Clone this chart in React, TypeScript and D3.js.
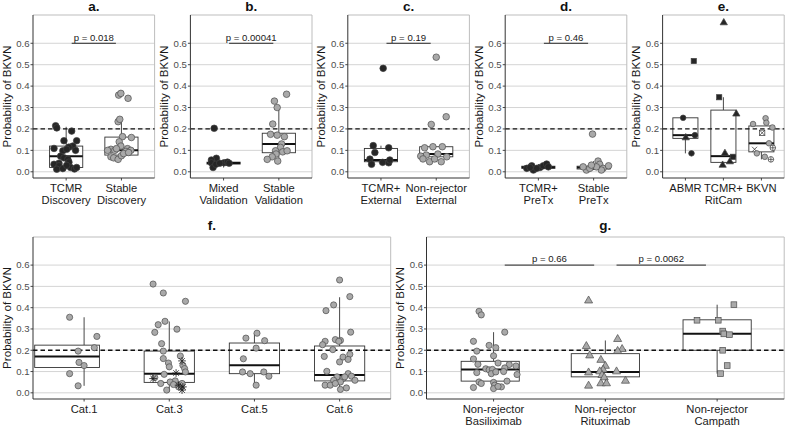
import React from "react";
import * as d3 from "d3";

const WIDTH = 787;
const HEIGHT = 427;
const FONT = "'Liberation Sans', Arial, Helvetica, sans-serif";

const yTickValues = [0, 0.1, 0.2, 0.3, 0.4, 0.5, 0.6];
const yTickLabels = ["0.0", "0.1", "0.2", "0.3", "0.4", "0.5", "0.6"];
const yDomain = [-0.029, 0.732];
const thresholdValue = 0.2;
const bracketValue = 0.6;
const yAxisTitle = "Probability of BKVN";

// ---------- panel a ----------
const aCategories = [["TCMR", "Discovery"], ["Stable", "Discovery"]];
const aTcmrBox = [0.012, 0.02, 0.073, 0.12, 0.21];
const aTcmrValues = [0.215, 0.205, 0.19, 0.145, 0.145, 0.12, 0.109, 0.115, 0.098, 0.105, 0.1, 0.073, 0.065, 0.058, 0.04, 0.045, 0.035, 0.028, 0.012, 0.015, 0.02, 0.013, 0.02, 0.03];
const aTcmrJitter = [-0.19, -0.17, 0.1, -0.04, 0.19, 0.12, -0.22, 0.05, -0.06, 0.01, 0.17, -0.1, -0.04, 0.03, -0.13, 0.05, -0.22, -0.13, -0.17, -0.06, 0.08, 0.15, 0.19, 0.01];
const aStableBox = [0.058, 0.078, 0.1, 0.162, 0.245];
const aStableValues = [0.358, 0.366, 0.343, 0.234, 0.245, 0.164, 0.16, 0.14, 0.12, 0.105, 0.1, 0.108, 0.108, 0.1, 0.1, 0.07, 0.065, 0.058, 0.075, 0.095, 0.085, 0.09];
const aStableJitter = [-0.05, -0.01, 0.12, -0.06, -0.03, 0.02, 0.18, -0.04, -0.01, -0.19, -0.12, -0.09, 0.11, 0.17, -0.25, -0.19, -0.14, -0.06, 0.0, 0.08, 0.04, 0.13];
const aPValues = ["p = 0.018"];

// ---------- panel b ----------
const bCategories = [["Mixed", "Validation"], ["Stable", "Validation"]];
const bMixedBox = [0.02, 0.036, 0.041, 0.045, 0.055];
const bMixedValues = [0.203, 0.063, 0.055, 0.042, 0.02, 0.035, 0.042, 0.045, 0.04, 0.04];
const bMixedJitter = [-0.17, -0.13, -0.22, -0.22, -0.19, -0.14, 0.01, 0.07, 0.1, -0.07];
const bStableBox = [0.05, 0.089, 0.13, 0.18, 0.3];
const bStableValues = [0.362, 0.33, 0.3, 0.223, 0.175, 0.171, 0.164, 0.13, 0.114, 0.098, 0.093, 0.098, 0.083, 0.07, 0.058, 0.05];
const bStableJitter = [0.14, -0.08, -0.03, -0.11, -0.15, -0.03, 0.1, 0.05, 0.03, -0.06, 0.07, 0.15, -0.05, -0.12, -0.21, -0.02];
const bPValues = ["p = 0.00041"];

// ---------- panel c ----------
const cCategories = [["TCMR+", "External"], ["Non-rejector", "External"]];
const cTcmrBox = [0.035, 0.047, 0.055, 0.109, 0.122];
const cTcmrValues = [0.483, 0.122, 0.112, 0.09, 0.059, 0.035, 0.044, 0.042, 0.055];
const cTcmrJitter = [0.04, -0.14, 0.14, -0.11, -0.2, -0.17, 0.03, 0.14, 0.16];
const cNonRejBox = [0.045, 0.07, 0.083, 0.117, 0.117];
const cNonRejValues = [0.535, 0.257, 0.221, 0.112, 0.117, 0.117, 0.078, 0.083, 0.07, 0.073, 0.047, 0.047, 0.06, 0.06];
const cNonRejJitter = [0.0, 0.18, -0.09, -0.21, -0.06, 0.11, -0.18, 0.03, 0.19, -0.28, -0.12, 0.09, -0.03, -0.24];
const cPValues = ["p = 0.19"];

// ---------- panel d ----------
const dCategories = [["TCMR+", "PreTx"], ["Stable", "PreTx"]];
const dTcmrBox = [0.008, 0.016, 0.021, 0.026, 0.036];
const dTcmrValues = [0.028, 0.008, 0.02, 0.028, 0.036, 0.016, 0.023, 0.016, 0.02];
const dTcmrJitter = [-0.12, -0.09, 0.03, 0.09, 0.15, -0.03, 0.18, -0.21, -0.15];
const dStableBox = [0.008, 0.013, 0.02, 0.026, 0.05];
const dStableValues = [0.176, 0.008, 0.016, 0.05, 0.035, 0.016, 0.028, 0.008, 0.023, 0.031, 0.023];
const dStableJitter = [-0.02, -0.13, -0.07, 0.08, 0.11, 0.17, 0.27, 0.14, 0.05, -0.04, -0.19];
const dPValues = ["p = 0.46"];

// ---------- panel e ----------
const eCategories = [["ABMR"], ["TCMR+", "RitCam"], ["BKVN"]];
const eAbmrBox = [0.086, 0.156, 0.171, 0.252, 0.252];
const eAbmrValues = [0.252, 0.517, 0.159, 0.171, 0.086];
const eAbmrJitter = [-0.06, 0.22, 0.01, 0.25, 0.16];
const eAbmrShapes = ["circle", "square", "triangle", "circle", "circle"];
const eTcmrBox = [0.031, 0.044, 0.073, 0.288, 0.348];
const eTcmrValues = [0.696, 0.348, 0.27, 0.086, 0.031, 0.047, 0.07];
const eTcmrJitter = [0.01, -0.11, 0.34, 0.04, -0.02, 0.17, 0.25];
const eTcmrShapes = ["triangle", "square", "triangle", "triangle", "triangle", "triangle", "square"];
const eBkvnBox = [0.058, 0.093, 0.133, 0.214, 0.214];
const eBkvnValues = [0.223, 0.25, 0.229, 0.207, 0.182, 0.133, 0.112, 0.105, 0.086, 0.07, 0.058];
const eBkvnJitter = [-0.22, 0.11, 0.13, 0.29, 0.02, 0.2, 0.3, -0.18, -0.12, 0.09, 0.25];
const eBkvnShapes = ["circle", "circle", "circle", "circle", "squareX", "circle", "circlePlus", "x", "circle", "circle", "circlePlus"];

// ---------- panel f ----------
const fCategories = [["Cat.1"], ["Cat.3"], ["Cat.5"], ["Cat.6"]];
const fCat1Box = [0.033, 0.119, 0.171, 0.224, 0.355];
const fCat1Values = [0.355, 0.265, 0.212, 0.196, 0.143, 0.128, 0.09, 0.033];
const fCat1Jitter = [-0.17, 0.15, 0.12, -0.07, -0.06, 0.0, -0.17, -0.07];
const fCat3Box = [0.005, 0.049, 0.09, 0.196, 0.335];
const fCat3Values = [0.511, 0.469, 0.43, 0.336, 0.32, 0.299, 0.284, 0.231, 0.161, 0.173, 0.14, 0.122, 0.129, 0.114, 0.098, 0.087, 0.072, 0.056, 0.044, 0.051, 0.044, 0.013, 0.028, 0.039, 0.196, 0.15, 0.093, 0.067, 0.036, 0.028, 0.013];
const fCat3Jitter = [-0.19, -0.07, 0.19, -0.05, -0.13, 0.09, -0.17, -0.09, -0.07, 0.13, -0.01, 0.0, 0.16, 0.18, 0.19, -0.06, -0.17, 0.07, -0.1, 0.01, 0.15, -0.03, 0.11, 0.05, -0.07, 0.15, 0.08, -0.19, 0.11, 0.16, 0.15];
const fCat3Shapes = ["circle", "circle", "circle", "circle", "circle", "circle", "circle", "circle", "circle", "circle", "circle", "circle", "circle", "circle", "circle", "circle", "circle", "circle", "circle", "circle", "circle", "circle", "circle", "circle", "circle", "asterisk", "asterisk", "asterisk", "asterisk", "asterisk", "asterisk"];
const fCat5Box = [0.036, 0.09, 0.129, 0.234, 0.28];
const fCat5Values = [0.28, 0.257, 0.245, 0.21, 0.16, 0.098, 0.09, 0.098, 0.078, 0.036];
const fCat5Jitter = [0.03, -0.1, 0.12, 0.02, -0.13, -0.14, -0.05, 0.11, 0.17, 0.02];
const fCat6Box = [0.016, 0.056, 0.084, 0.22, 0.449];
const fCat6Values = [0.53, 0.452, 0.413, 0.386, 0.285, 0.242, 0.25, 0.246, 0.242, 0.226, 0.203, 0.171, 0.168, 0.181, 0.157, 0.145, 0.101, 0.09, 0.078, 0.075, 0.059, 0.067, 0.059, 0.051, 0.036, 0.036, 0.023, 0.016, 0.044, 0.075];
const fCat6Jitter = [0.0, 0.12, -0.07, -0.16, 0.13, -0.17, -0.05, 0.01, -0.01, -0.2, -0.08, -0.18, 0.04, 0.12, 0.1, 0.0, -0.15, 0.1, 0.14, -0.03, -0.07, 0.04, 0.18, 0.01, -0.17, -0.11, 0.08, 0.01, -0.05, 0.06];

// ---------- panel g ----------
const gCategories = [["Non-rejector", "Basiliximab"], ["Non-rejector", "Rituximab"], ["Non-rejector", "Campath"]];
const gBasBox = [0.02, 0.055, 0.109, 0.148, 0.285];
const gBasValues = [0.383, 0.366, 0.285, 0.242, 0.223, 0.212, 0.196, 0.174, 0.159, 0.14, 0.134, 0.133, 0.126, 0.113, 0.108, 0.11, 0.117, 0.095, 0.09, 0.098, 0.1, 0.086, 0.055, 0.049, 0.051, 0.044, 0.036, 0.028, 0.025, 0.02, 0.03];
const gBasJitter = [-0.13, -0.11, 0.1, -0.18, -0.04, 0.02, -0.15, 0.0, -0.18, 0.04, -0.14, 0.14, 0.2, -0.07, -0.04, -0.01, 0.1, -0.15, -0.02, 0.02, 0.09, 0.21, 0.12, 0.0, -0.13, -0.11, 0.01, 0.07, -0.18, 0.0, 0.04];
const gRitBox = [0.033, 0.075, 0.098, 0.184, 0.246];
const gRitValues = [0.433, 0.252, 0.219, 0.205, 0.196, 0.175, 0.154, 0.126, 0.108, 0.095, 0.1, 0.1, 0.083, 0.072, 0.056, 0.044, 0.044, 0.033];
const gRitJitter = [-0.15, 0.11, -0.17, 0.15, 0.11, -0.14, -0.04, 0.0, -0.02, -0.15, -0.05, 0.1, -0.03, -0.01, 0.18, -0.04, 0.01, -0.15];
const gCamBox = [0.09, 0.2, 0.277, 0.343, 0.414];
const gCamValues = [0.414, 0.341, 0.341, 0.29, 0.277, 0.273, 0.2, 0.128, 0.09];
const gCamJitter = [0.15, -0.18, 0.01, 0.05, 0.06, 0.11, 0.05, 0.09, 0.03];
const gPValues = ["p = 0.66", "p = 0.0062"];

// ---------- styling ----------
const TONES: Record<string, { fill: string; stroke: string }> = {
  dark: { fill: "#262626", stroke: "#404040" },
  light: { fill: "#a9a9a9", stroke: "#4d4d4d" },
};

type Group = {
  labels: string[];
  box: number[];
  values: number[];
  jitter: number[];
  shapes?: string[];
  shape?: string;
  tone: string;
  boxShift?: number;
  boxWidth?: number;
};
type Panel = {
  title: string;
  cell: [number, number];
  row: number;
  groups: Group[];
  boxWidth: number;
  pointR: number;
  brackets: { from: number; to: number; label: string }[];
};

const ROWS = [
  { top: 15, bottom: 178, titleY: 11 },
  { top: 237, bottom: 399, titleY: 230 },
];
const topCell = WIDTH / 5;

function mk(categories: string[][], boxes: number[][], values: number[][], jitters: number[][], tones: string[], shapes: (string[] | undefined)[], shape: string) {
  return categories.map((labels, i) => ({
    labels,
    box: boxes[i],
    values: values[i],
    jitter: jitters[i],
    tone: tones[i],
    shapes: shapes[i],
    shape,
  })) as Group[];
}

const panels: Panel[] = [
  {
    title: "a.", cell: [0, topCell], row: 0, boxWidth: 0.6, pointR: 3.3,
    groups: mk(aCategories, [aTcmrBox, aStableBox], [aTcmrValues, aStableValues], [aTcmrJitter, aStableJitter], ["dark", "light"], [undefined, undefined], "circle"),
    brackets: [{ from: 1, to: 2, label: aPValues[0] }],
  },
  {
    title: "b.", cell: [topCell, 2 * topCell], row: 0, boxWidth: 0.6, pointR: 3.3,
    groups: mk(bCategories, [bMixedBox, bStableBox], [bMixedValues, bStableValues], [bMixedJitter, bStableJitter], ["dark", "light"], [undefined, undefined], "circle"),
    brackets: [{ from: 1, to: 2, label: bPValues[0] }],
  },
  {
    title: "c.", cell: [2 * topCell, 3 * topCell], row: 0, boxWidth: 0.6, pointR: 3.3,
    groups: mk(cCategories, [cTcmrBox, cNonRejBox], [cTcmrValues, cNonRejValues], [cTcmrJitter, cNonRejJitter], ["dark", "light"], [undefined, undefined], "circle"),
    brackets: [{ from: 1, to: 2, label: cPValues[0] }],
  },
  {
    title: "d.", cell: [3 * topCell, 4 * topCell], row: 0, boxWidth: 0.6, pointR: 3.3,
    groups: mk(dCategories, [dTcmrBox, dStableBox], [dTcmrValues, dStableValues], [dTcmrJitter, dStableJitter], ["dark", "light"], [undefined, undefined], "circle"),
    brackets: [{ from: 1, to: 2, label: dPValues[0] }],
  },
  {
    title: "e.", cell: [4 * topCell, WIDTH], row: 0, boxWidth: 0.66, pointR: 2.8,
    groups: mk(eCategories, [eAbmrBox, eTcmrBox, eBkvnBox], [eAbmrValues, eTcmrValues, eBkvnValues], [eAbmrJitter, eTcmrJitter, eBkvnJitter], ["dark", "dark", "light"], [eAbmrShapes, eTcmrShapes, eBkvnShapes], "circle"),
    brackets: [],
  },
  {
    title: "f.", cell: [0, WIDTH / 2], row: 1, boxWidth: 0.59, pointR: 3.1,
    groups: (() => {
      const g = mk(fCategories, [fCat1Box, fCat3Box, fCat5Box, fCat6Box], [fCat1Values, fCat3Values, fCat5Values, fCat6Values], [fCat1Jitter, fCat3Jitter, fCat5Jitter, fCat6Jitter], ["light", "light", "light", "light"], [undefined, fCat3Shapes, undefined, undefined], "circle");
      g[0].boxShift = -0.2;
      g[0].boxWidth = 0.76;
      return g;
    })(),
    brackets: [],
  },
  {
    title: "g.", cell: [WIDTH / 2, WIDTH], row: 1, boxWidth: 0.61, pointR: 3.1,
    groups: (() => {
      const g = mk(gCategories, [gBasBox, gRitBox, gCamBox], [gBasValues, gRitValues, gCamValues], [gBasJitter, gRitJitter, gCamJitter], ["light", "light", "light"], [undefined, undefined, undefined], "circle");
      g[0].boxShift = -0.03;
      g[0].boxWidth = 0.52;
      g[1].shape = "triangle";
      g[2].shape = "square";
      return g;
    })(),
    brackets: [
      { from: 1, to: 2, label: gPValues[0] },
      { from: 2, to: 3, label: gPValues[1] },
    ],
  },
];

function Marker({ shape, cx, cy, r, fill, stroke }: { shape: string; cx: number; cy: number; r: number; fill: string; stroke: string }) {
  if (shape === "square") {
    const s = r * 1.85;
    return <rect x={cx - s / 2} y={cy - s / 2} width={s} height={s} fill={fill} stroke={stroke} strokeWidth={0.7} />;
  }
  if (shape === "triangle") {
    const s = r * 2.6;
    const h = s * 0.866;
    const d = `M${cx},${cy - (2 * h) / 3}L${cx - s / 2},${cy + h / 3}L${cx + s / 2},${cy + h / 3}Z`;
    return <path d={d} fill={fill} stroke={stroke} strokeWidth={0.7} />;
  }
  if (shape === "asterisk") {
    const a = r * 1.25;
    const b = a * 0.72;
    return (
      <g stroke="#1a1a1a" strokeWidth={0.8}>
        <line x1={cx - a} y1={cy} x2={cx + a} y2={cy} />
        <line x1={cx} y1={cy - a} x2={cx} y2={cy + a} />
        <line x1={cx - b} y1={cy - b} x2={cx + b} y2={cy + b} />
        <line x1={cx - b} y1={cy + b} x2={cx + b} y2={cy - b} />
      </g>
    );
  }
  if (shape === "squareX") {
    const s = r * 1.9;
    return (
      <g stroke="#333" strokeWidth={0.7} fill="none">
        <rect x={cx - s / 2} y={cy - s / 2} width={s} height={s} />
        <line x1={cx - s / 2} y1={cy - s / 2} x2={cx + s / 2} y2={cy + s / 2} />
        <line x1={cx - s / 2} y1={cy + s / 2} x2={cx + s / 2} y2={cy - s / 2} />
      </g>
    );
  }
  if (shape === "circlePlus") {
    return (
      <g stroke="#333" strokeWidth={0.7} fill="#ffffff">
        <circle cx={cx} cy={cy} r={r} />
        <line x1={cx - r} y1={cy} x2={cx + r} y2={cy} />
        <line x1={cx} y1={cy - r} x2={cx} y2={cy + r} />
      </g>
    );
  }
  if (shape === "x") {
    const a = r * 0.9;
    return (
      <g stroke="#333" strokeWidth={0.8}>
        <line x1={cx - a} y1={cy - a} x2={cx + a} y2={cy + a} />
        <line x1={cx - a} y1={cy + a} x2={cx + a} y2={cy - a} />
      </g>
    );
  }
  return <circle cx={cx} cy={cy} r={r} fill={fill} stroke={stroke} strokeWidth={0.7} />;
}

function PanelView({ p }: { p: Panel }) {
  const row = ROWS[p.row];
  const left = p.cell[0] + 33;
  const right = p.cell[1] - 2.8;
  const n = p.groups.length;
  const x = d3.scaleLinear().domain([0.4, n + 0.6]).range([left, right]);
  const y = d3.scaleLinear().domain(yDomain).range([row.bottom, row.top]);
  const unit = x(2) - x(1);
  const yTitleX = p.cell[0] + 10.5;
  const yMid = (row.top + row.bottom) / 2;

  return (
    <g>
      {/* grid */}
      {yTickValues.map((t) => (
        <line key={"g" + t} x1={left} x2={right} y1={y(t)} y2={y(t)} stroke="#cfcfcf" strokeWidth={0.9} />
      ))}
      {/* panel border */}
      <line x1={left} x2={right} y1={row.top} y2={row.top} stroke="#bdbdbd" strokeWidth={1} />
      <line x1={right} x2={right} y1={row.top} y2={row.bottom} stroke="#bdbdbd" strokeWidth={1} />
      {/* boxes */}
      {p.groups.map((g, i) => {
        const cx = x(i + 1);
        const bw = (g.boxWidth ?? p.boxWidth) * unit;
        const bc = cx + (g.boxShift ?? 0) * unit;
        const [lo, q1, med, q3, hi] = g.box;
        return (
          <g key={"b" + i}>
            <line x1={cx} x2={cx} y1={y(hi)} y2={y(q3)} stroke="#333" strokeWidth={0.9} />
            <line x1={cx} x2={cx} y1={y(q1)} y2={y(lo)} stroke="#333" strokeWidth={0.9} />
            <rect x={bc - bw / 2} y={y(q3)} width={bw} height={Math.max(0.5, y(q1) - y(q3))} fill="#ffffff" stroke="#333" strokeWidth={0.9} />
            <line x1={bc - bw / 2} x2={bc + bw / 2} y1={y(med)} y2={y(med)} stroke="#111" strokeWidth={2} />
          </g>
        );
      })}
      {/* threshold */}
      <line x1={left} x2={right} y1={y(thresholdValue)} y2={y(thresholdValue)} stroke="#111" strokeWidth={1.3} strokeDasharray="4.5,3" />
      {/* points */}
      {p.groups.map((g, i) => {
        const cx = x(i + 1);
        const tone = TONES[g.tone];
        return (
          <g key={"p" + i}>
            {g.values.map((v, j) => (
              <Marker key={j} shape={g.shapes ? g.shapes[j] : g.shape || "circle"} cx={cx + g.jitter[j] * unit} cy={y(v)} r={p.pointR} fill={tone.fill} stroke={tone.stroke} />
            ))}
          </g>
        );
      })}
      {/* brackets */}
      {p.brackets.map((b, i) => {
        const x1 = x(b.from) + 0.1 * unit;
        const x2 = x(b.to) - 0.1 * unit;
        return (
          <g key={"k" + i}>
            <line x1={x1} x2={x2} y1={y(bracketValue)} y2={y(bracketValue)} stroke="#111" strokeWidth={0.9} />
            <text x={(x1 + x2) / 2} y={y(bracketValue) - 2.6} textAnchor="middle" fontSize={9.6} fill="#1a1a1a" fontFamily={FONT}>
              {b.label}
            </text>
          </g>
        );
      })}
      {/* axes */}
      <line x1={left} x2={left} y1={row.top} y2={row.bottom} stroke="#333" strokeWidth={1} />
      <line x1={left} x2={right} y1={row.bottom} y2={row.bottom} stroke="#333" strokeWidth={1} />
      {yTickValues.map((t, i) => (
        <g key={"t" + t}>
          <line x1={left - 2.5} x2={left} y1={y(t)} y2={y(t)} stroke="#333" strokeWidth={0.9} />
          <text x={left - 3.5} y={y(t)} dy="0.35em" textAnchor="end" fontSize={9.6} fill="#4d4d4d" fontFamily={FONT}>
            {yTickLabels[i]}
          </text>
        </g>
      ))}
      {p.groups.map((g, i) => (
        <g key={"x" + i}>
          <line x1={x(i + 1)} x2={x(i + 1)} y1={row.bottom} y2={row.bottom + 2.5} stroke="#333" strokeWidth={0.9} />
          {g.labels.map((l, k) => (
            <text key={k} x={x(i + 1)} y={row.bottom + 13.7 + k * 11.8} textAnchor="middle" fontSize={11.2} fill="#1a1a1a" fontFamily={FONT}>
              {l}
            </text>
          ))}
        </g>
      ))}
      <text transform={`translate(${yTitleX},${yMid}) rotate(-90)`} textAnchor="middle" fontSize={11.6} fill="#1a1a1a" fontFamily={FONT}>
        {yAxisTitle}
      </text>
      <text x={(left + right) / 2} y={row.titleY} textAnchor="middle" fontSize={13.5} fontWeight="bold" fill="#111" fontFamily={FONT}>
        {p.title}
      </text>
    </g>
  );
}

export default function App() {
  return (
    <svg width={WIDTH} height={HEIGHT} viewBox={`0 0 ${WIDTH} ${HEIGHT}`} style={{ display: "block", position: "absolute", left: 0, top: 0, background: "#ffffff" }}>
      <rect x={0} y={0} width={WIDTH} height={HEIGHT} fill="#ffffff" />
      {panels.map((p) => (
        <PanelView key={p.title} p={p} />
      ))}
    </svg>
  );
}
